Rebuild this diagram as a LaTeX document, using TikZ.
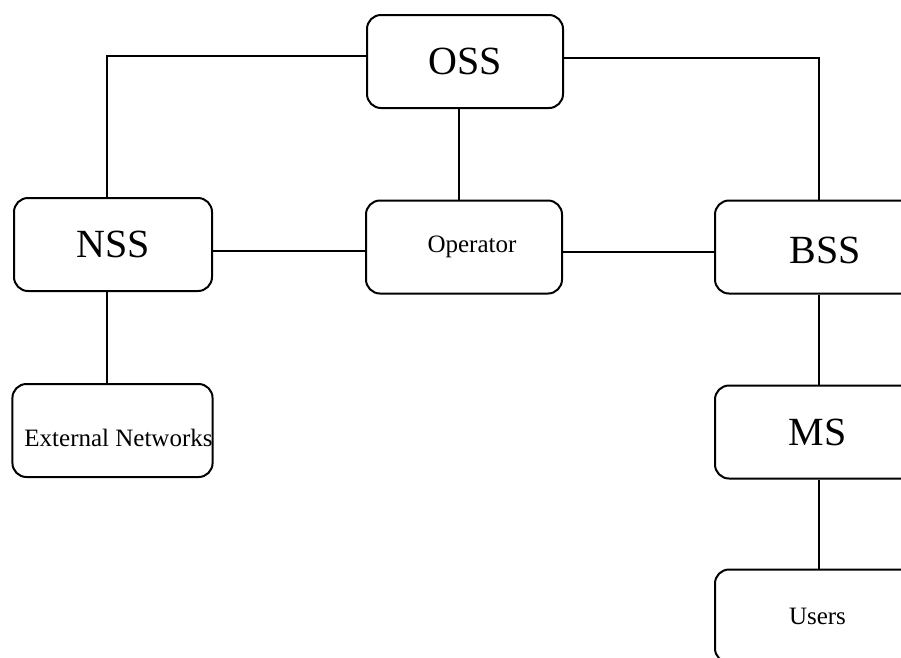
\documentclass[tikz,border=0pt]{standalone}
\usepackage{fontspec}
\setmainfont{Liberation Serif}
\begin{document}
\begin{tikzpicture}[x=1pt,y=-1pt,
  box/.style={draw, line width=2pt, rounded corners=14pt, inner sep=0pt,
    minimum height=93pt},
  bigtext/.style={font=\fontsize{40}{44}\selectfont},
  smalltext/.style={font=\fontsize{25}{28}\selectfont},
  link/.style={line width=2pt}]
\useasboundingbox (0,0) rectangle (901,657);
\clip (0,0) rectangle (901,657);

% top: operation and support subsystem
\node[box, bigtext, minimum width=196pt] (oss) at (465,61.5) {OSS};

% middle row
\node[box, bigtext, minimum width=198pt] (nss) at (113,244.5) {NSS};
\node[box, smalltext, minimum width=196pt] (op) at (464,247) {\hspace*{16pt}Operator};
\node[box, bigtext, minimum width=205pt] (bss) at (817.5,247) {\hspace*{15pt}\raisebox{-3pt}[\height][\depth]{BSS}};

% lower rows
\node[box, smalltext, minimum width=199pt] (ext) at (112.5,430.5) {\hspace*{12pt}\raisebox{-7pt}[\height][\depth]{External Networks}};
\node[box, bigtext, minimum width=205pt] (ms) at (817.5,432) {MS};
\node[box, smalltext, minimum width=205pt] (usr) at (817.5,616) {Users};

% connectors
\draw[link] ([yshift=6pt]oss.west) -| ([xshift=-6pt]nss.north);
\draw[link] ([yshift=4pt]oss.east) -| ([xshift=1.5pt]bss.north);
\draw[link] ([xshift=-6pt]oss.south) -- ([xshift=-6pt]oss.south |- op.north);
\draw[link] ([yshift=-6pt]nss.east) -- ([yshift=-6pt]nss.east -| op.west);
\draw[link] ([yshift=-5pt]op.east) -- ([yshift=-5pt]op.east -| bss.west);
\draw[link] ([xshift=-6pt]nss.south) -- ([xshift=-6pt]nss.south |- ext.north);
\draw[link] ([xshift=1.5pt]bss.south) -- ([xshift=1.5pt]bss.south |- ms.north);
\draw[link] ([xshift=1.5pt]ms.south) -- ([xshift=1.5pt]ms.south |- usr.north);
\end{tikzpicture}
\end{document}
